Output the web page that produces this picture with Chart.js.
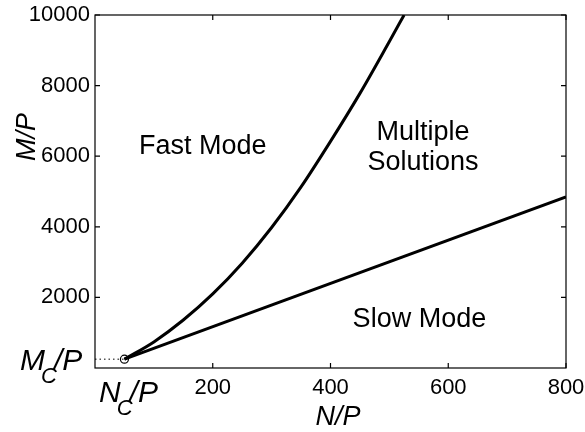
<!DOCTYPE html>
<html lang="en">
<head>
    <meta charset="UTF-8">
    <title>Mode regions</title>
    <script src="https://cdn.jsdelivr.net/npm/chart.js"></script>
    <style>
        body {
            margin: 0;
            padding: 0;
            background-color: white;
        }
        #wrap {
            width: 585px;
            height: 432px;
        }
    </style>
</head>
<body>
    <div id="wrap">
        <canvas id="modeChart" width="585" height="432"></canvas>
    </div>

    <script>
        // critical point (N_C/P, M_C/P)
        const critN = 50;
        const critM = 250;

        // fast / multiple boundary (curve)
        const upperN = [50, 100, 150, 200, 250, 300, 350, 400, 450, 500, 525];
        const upperM = [250, 740, 1360, 2100, 2970, 3980, 5130, 6420, 7780, 9250, 10000];

        // slow / multiple boundary (straight line)
        const lowerN = [50, 800];
        const lowerM = [250, 4850];

        const xTicks = [200, 400, 600, 800];
        const yTicks = [2000, 4000, 6000, 8000, 10000];

        const regionLabels = [
            { text: 'Fast Mode', x: 183, y: 6260 },
            { text: 'Multiple', x: 557, y: 6660 },
            { text: 'Solutions', x: 557, y: 5810 },
            { text: 'Slow Mode', x: 551, y: 1360 }
        ];

        const toPoints = (xs, ys) => xs.map((x, i) => ({ x: x, y: ys[i] }));

        const FONT = 'Liberation Sans, Arial, sans-serif';

        // draws the box, inward ticks on all sides, region text and the subscript labels
        const framePlugin = {
            id: 'frame',
            afterDraw(chart) {
                const ctx = chart.ctx;
                const a = chart.chartArea;
                const xs = chart.scales.x;
                const ys = chart.scales.y;
                ctx.save();
                ctx.strokeStyle = '#000';
                ctx.lineWidth = 1.2;
                ctx.strokeRect(a.left, a.top, a.right - a.left, a.bottom - a.top);

                const tl = 5;
                ctx.beginPath();
                xTicks.forEach(v => {
                    const p = xs.getPixelForValue(v);
                    ctx.moveTo(p, a.bottom); ctx.lineTo(p, a.bottom - tl);
                    ctx.moveTo(p, a.top); ctx.lineTo(p, a.top + tl);
                });
                yTicks.forEach(v => {
                    const p = ys.getPixelForValue(v);
                    ctx.moveTo(a.left, p); ctx.lineTo(a.left + tl, p);
                    ctx.moveTo(a.right, p); ctx.lineTo(a.right - tl, p);
                });
                ctx.stroke();

                // region labels
                ctx.fillStyle = '#000';
                ctx.font = '27px ' + FONT;
                ctx.textAlign = 'center';
                ctx.textBaseline = 'middle';
                regionLabels.forEach(l => {
                    ctx.fillText(l.text, xs.getPixelForValue(l.x), ys.getPixelForValue(l.y));
                });

                // axis titles
                ctx.font = 'italic 27px ' + FONT;
                ctx.fillText('N/P', 338, 417);
                ctx.save();
                ctx.translate(27, 137);
                ctx.rotate(-Math.PI / 2);
                ctx.fillText('M/P', 0, 0);
                ctx.restore();

                // M_C/P and N_C/P
                const big = 'italic 30px ' + FONT;
                const small = 'italic 22px ' + FONT;
                function subLabel(x0, base, letter) {
                    ctx.textAlign = 'left';
                    ctx.textBaseline = 'alphabetic';
                    ctx.font = big;
                    const w1 = ctx.measureText(letter).width;
                    ctx.fillText(letter, x0, base);
                    ctx.font = small;
                    const w2 = ctx.measureText('C').width;
                    ctx.fillText('C', x0 + w1 - 4, base + 13);
                    ctx.font = big;
                    ctx.fillText('/P', x0 + w1 + w2 - 7, base);
                }
                const my = ys.getPixelForValue(critM);
                subLabel(20, my + 11, 'M');
                subLabel(99, 402, 'N');
                ctx.restore();
            }
        };

        new Chart(document.getElementById('modeChart'), {
            type: 'scatter',
            data: {
                datasets: [
                    {
                        // dotted guide to the y axis
                        data: toPoints([0, critN], [critM, critM]),
                        showLine: true,
                        borderColor: '#555',
                        borderWidth: 1.5,
                        borderDash: [1.5, 3],
                        pointRadius: 0
                    },
                    {
                        data: toPoints(upperN, upperM),
                        showLine: true,
                        borderColor: '#000',
                        borderWidth: 3,
                        cubicInterpolationMode: 'monotone',
                        pointRadius: 0
                    },
                    {
                        data: toPoints(lowerN, lowerM),
                        showLine: true,
                        borderColor: '#000',
                        borderWidth: 3,
                        pointRadius: 0
                    },
                    {
                        data: [{ x: critN, y: critM }],
                        pointRadius: 4,
                        pointBorderColor: '#000',
                        pointBorderWidth: 1.2,
                        pointBackgroundColor: 'rgba(255,255,255,0)'
                    }
                ]
            },
            options: {
                responsive: false,
                animation: false,
                layout: {
                    padding: { left: 0, top: 15, right: 19, bottom: 0 }
                },
                plugins: {
                    legend: { display: false },
                    tooltip: { enabled: false }
                },
                scales: {
                    x: {
                        type: 'linear',
                        min: 0,
                        max: 800,
                        grid: { display: false, drawTicks: false },
                        border: { display: false },
                        afterBuildTicks: s => { s.ticks = xTicks.map(v => ({ value: v })); },
                        afterFit: s => {
                            s.height = 64;
                            s.paddingLeft = 0;
                            s.paddingRight = 0;
                        },
                        ticks: {
                            color: '#000',
                            padding: 7,
                            maxRotation: 0,
                            font: { family: FONT, size: 22 },
                            callback: v => String(v)
                        }
                    },
                    y: {
                        type: 'linear',
                        min: 0,
                        max: 10000,
                        grid: { display: false, drawTicks: false },
                        border: { display: false },
                        afterBuildTicks: s => { s.ticks = yTicks.map(v => ({ value: v })); },
                        afterFit: s => {
                            s.width = 95;
                            s.paddingTop = 0;
                            s.paddingBottom = 0;
                        },
                        ticks: {
                            color: '#000',
                            padding: 5,
                            font: { family: FONT, size: 22 },
                            callback: v => String(v)
                        }
                    }
                }
            },
            plugins: [framePlugin]
        });
    </script>
</body>
</html>
